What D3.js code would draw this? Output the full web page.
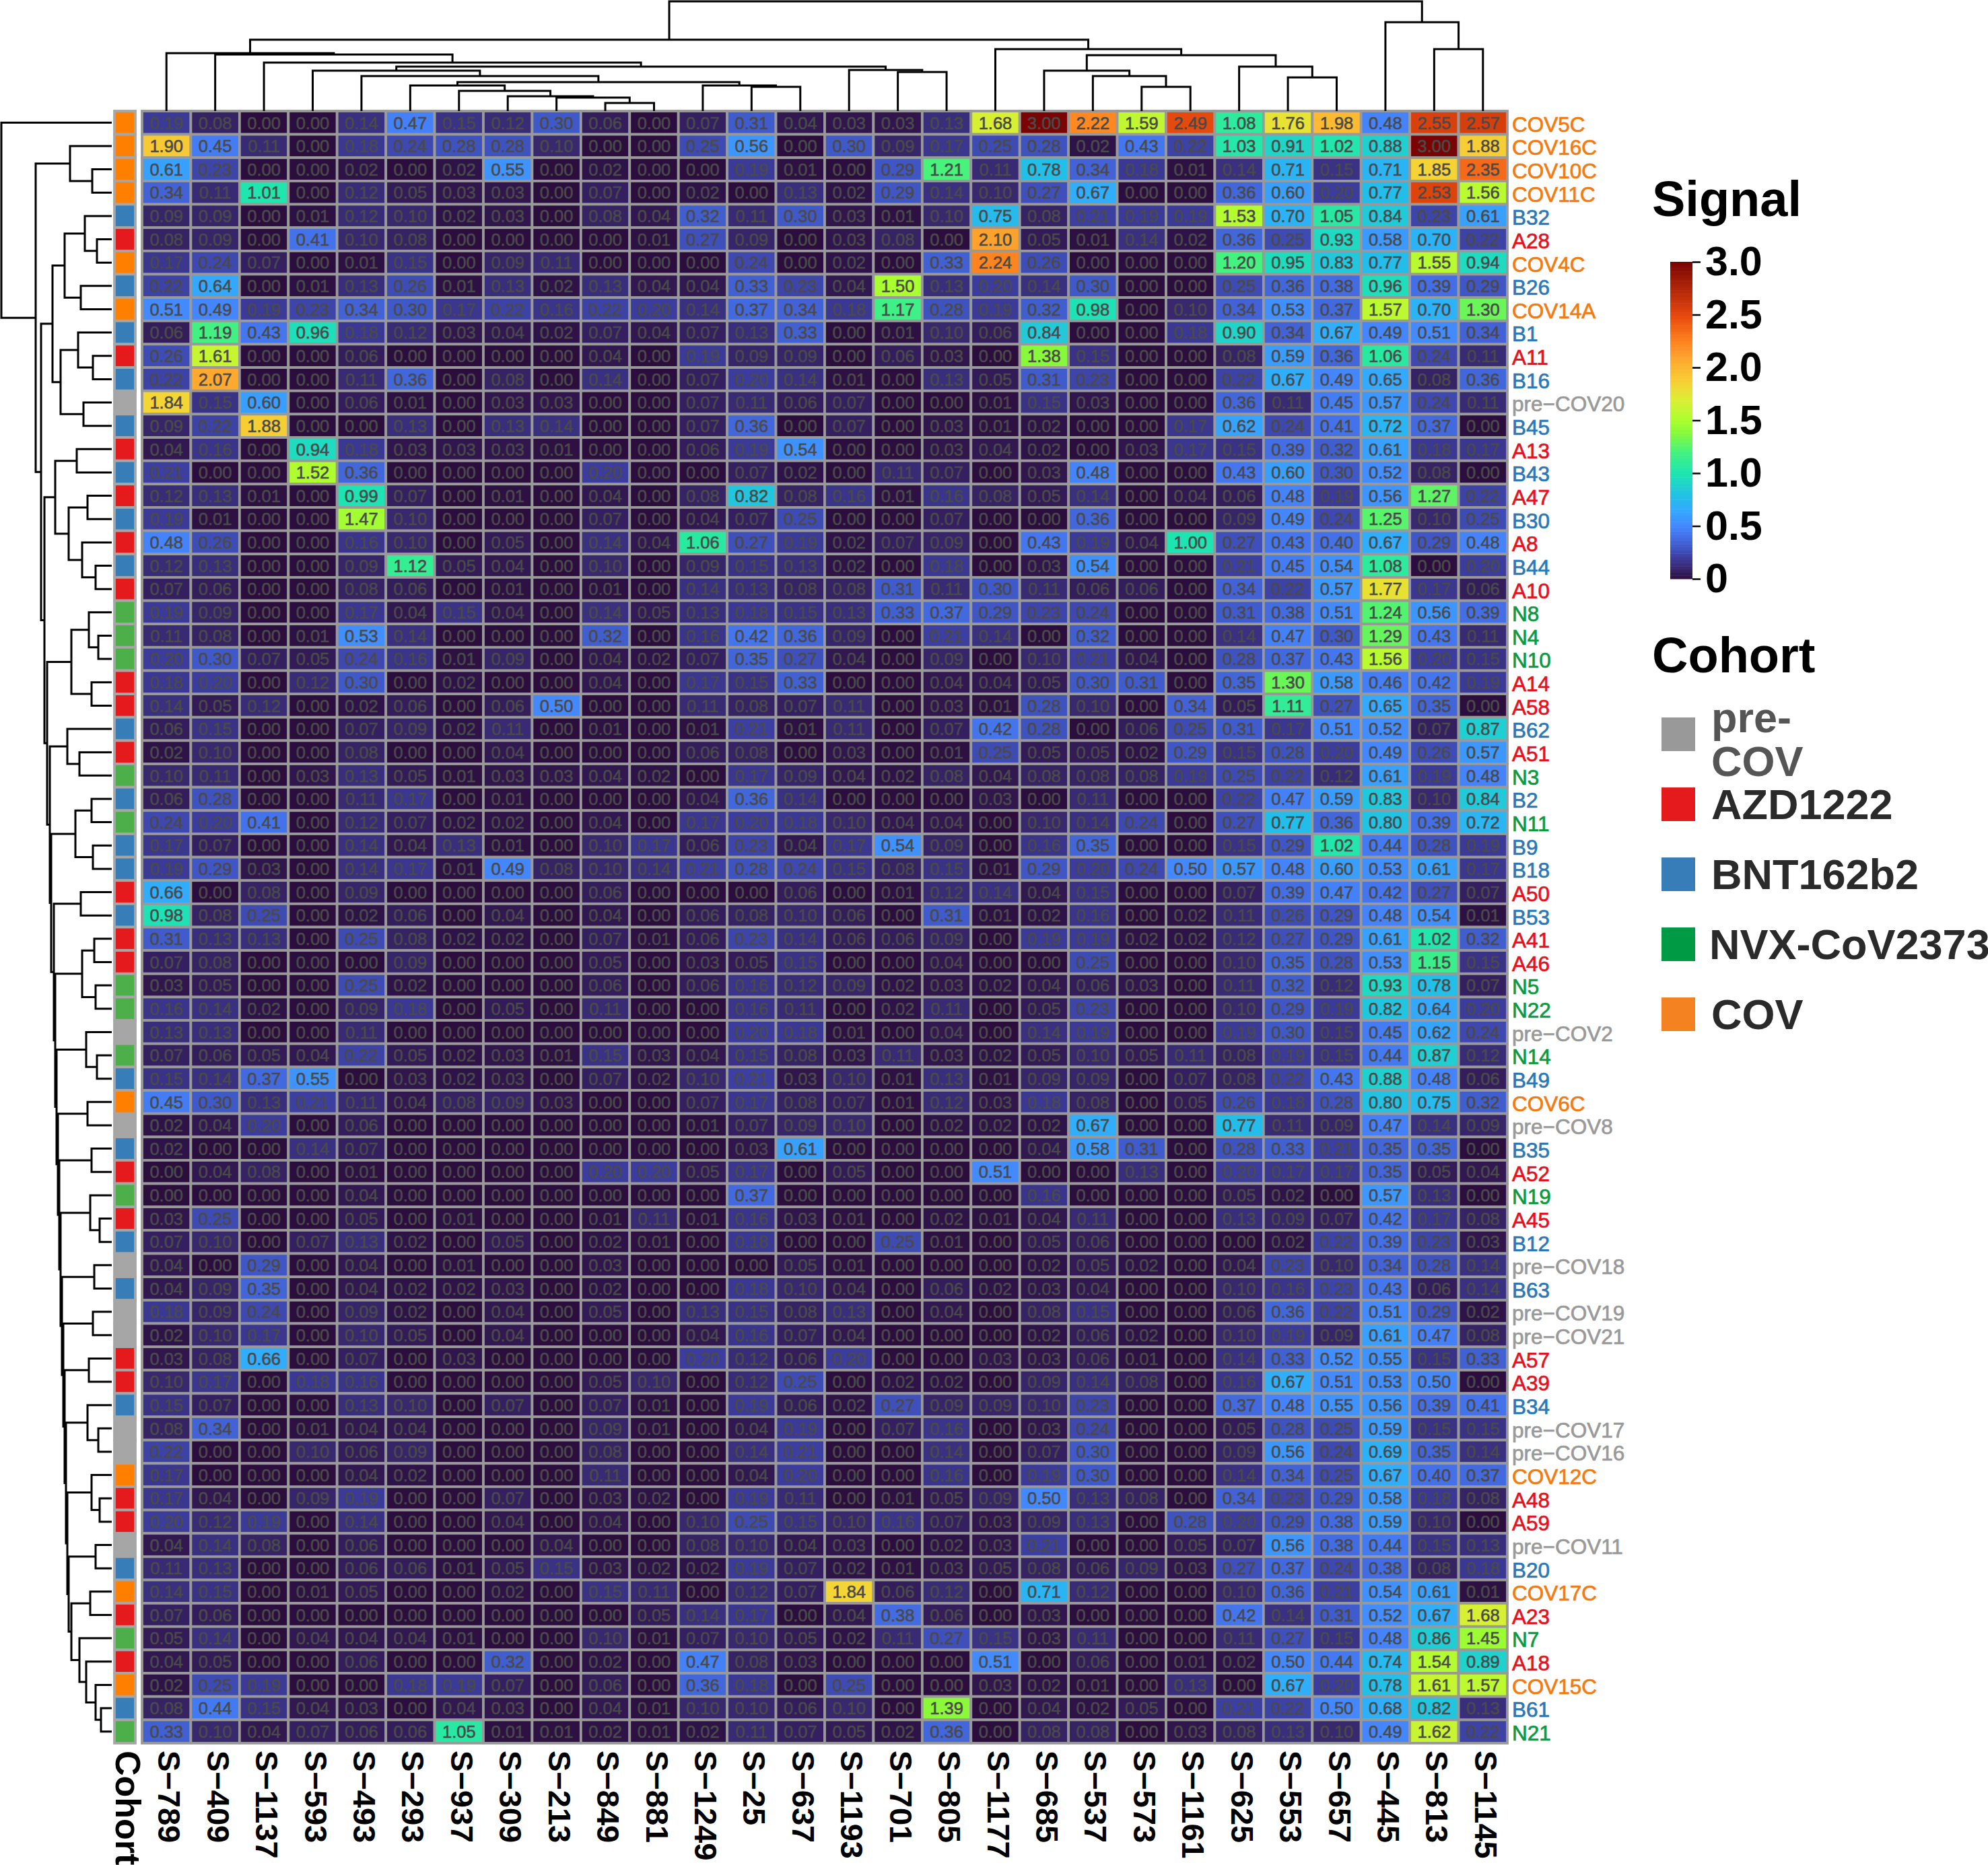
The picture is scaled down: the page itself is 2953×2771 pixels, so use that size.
<!DOCTYPE html>
<html>
<head>
<meta charset="utf-8">
<script src="https://cdn.jsdelivr.net/npm/d3@7"></script>
<style>
  body { margin: 0; background: #fff; }
  text { font-family: "Liberation Sans", Arial, sans-serif; }
</style>
</head>
<body>
<svg id="chart" width="2953" height="2771"></svg>
<script>
const colLabels = ["S−789","S−409","S−1137","S−593","S−493","S−293","S−937","S−309","S−213","S−849","S−881","S−1249","S−25","S−637","S−1193","S−701","S−805","S−1177","S−685","S−537","S−573","S−1161","S−625","S−553","S−657","S−445","S−813","S−1145"];

const rowLabels = ["COV5C","COV16C","COV10C","COV11C","B32","A28","COV4C","B26","COV14A","B1","A11","B16","pre−COV20","B45","A13","B43","A47","B30","A8","B44","A10","N8","N4","N10","A14","A58","B62","A51","N3","B2","N11","B9","B18","A50","B53","A41","A46","N5","N22","pre−COV2","N14","B49","COV6C","pre−COV8","B35","A52","N19","A45","B12","pre−COV18","B63","pre−COV19","pre−COV21","A57","A39","B34","pre−COV17","pre−COV16","COV12C","A48","A59","pre−COV11","B20","COV17C","A23","N7","A18","COV15C","B61","N21"];

const values = [
[0.19,0.08,0,0,0.14,0.47,0.15,0.12,0.30,0.06,0,0.07,0.31,0.04,0.03,0.03,0.13,1.68,3.00,2.22,1.59,2.49,1.08,1.76,1.98,0.48,2.55,2.57],
[1.90,0.45,0.11,0,0.18,0.24,0.28,0.28,0.10,0,0,0.25,0.56,0,0.30,0.09,0.17,0.25,0.28,0.02,0.43,0.22,1.03,0.91,1.02,0.88,3.00,1.88],
[0.61,0.23,0,0,0.02,0,0.02,0.55,0,0.02,0,0,0.19,0.01,0,0.29,1.21,0.11,0.78,0.34,0.18,0.01,0.14,0.71,0.15,0.71,1.85,2.35],
[0.34,0.11,1.01,0,0.12,0.05,0.03,0.03,0,0.07,0,0.02,0,0.13,0.02,0.29,0.14,0.10,0.27,0.67,0,0,0.36,0.60,0.20,0.77,2.53,1.56],
[0.09,0.09,0,0.01,0.12,0.10,0.02,0.03,0,0.08,0.04,0.32,0.11,0.30,0.03,0.01,0.10,0.75,0.08,0.21,0.19,0.19,1.53,0.70,1.05,0.84,0.23,0.61],
[0.08,0.09,0,0.41,0.10,0.08,0,0,0,0,0.01,0.27,0.09,0,0.03,0.08,0,2.10,0.05,0.01,0.14,0.02,0.36,0.25,0.93,0.58,0.70,0.22],
[0.17,0.24,0.07,0,0.01,0.15,0,0.09,0.11,0,0,0,0.24,0,0.02,0,0.33,2.24,0.26,0,0,0,1.20,0.95,0.83,0.77,1.55,0.94],
[0.22,0.64,0,0.01,0.13,0.26,0.01,0.13,0.02,0.13,0.04,0.04,0.33,0.23,0.04,1.50,0.13,0.20,0.14,0.30,0,0,0.25,0.36,0.38,0.96,0.39,0.29],
[0.51,0.49,0.19,0.23,0.34,0.30,0.17,0.22,0.16,0.22,0.20,0.14,0.37,0.34,0.18,1.17,0.28,0.19,0.32,0.98,0,0.10,0.34,0.53,0.37,1.57,0.70,1.30],
[0.06,1.19,0.43,0.96,0.18,0.12,0.03,0.04,0.02,0.07,0.04,0.07,0.13,0.33,0,0.01,0.10,0.06,0.84,0,0,0.18,0.90,0.34,0.67,0.49,0.51,0.34],
[0.26,1.61,0,0,0.06,0,0,0,0,0.04,0,0.19,0.09,0.09,0,0.06,0.03,0,1.38,0.15,0,0,0.08,0.59,0.36,1.06,0.24,0.11],
[0.22,2.07,0,0,0.11,0.36,0,0.08,0,0.14,0,0.07,0.20,0.14,0.01,0,0.13,0.05,0.31,0.23,0,0,0.22,0.67,0.49,0.65,0.08,0.36],
[1.84,0.15,0.60,0,0.06,0.01,0,0.03,0.03,0,0,0.07,0.11,0.06,0.07,0,0,0.01,0.15,0.03,0,0,0.36,0.11,0.45,0.57,0.24,0.11],
[0.09,0.22,1.88,0,0,0.13,0,0.13,0.14,0,0,0.07,0.36,0,0.07,0,0.03,0.01,0.02,0,0,0.17,0.62,0.24,0.41,0.72,0.37,0],
[0.04,0.16,0,0.94,0.18,0.03,0.03,0.03,0.01,0,0,0.06,0.19,0.54,0,0,0.03,0.04,0.02,0,0.03,0.17,0.15,0.39,0.32,0.61,0.18,0.17],
[0.21,0,0,1.52,0.36,0,0,0,0,0.20,0,0,0.07,0.02,0,0.11,0.07,0,0.03,0.48,0,0,0.43,0.60,0.30,0.52,0.08,0],
[0.12,0.13,0.01,0,0.99,0.07,0,0.01,0,0.04,0,0.08,0.82,0.08,0.16,0.01,0.16,0.08,0.05,0.14,0,0.04,0.06,0.48,0.19,0.56,1.27,0.22],
[0.19,0.01,0,0,1.47,0.10,0,0,0,0.07,0,0.04,0.07,0.25,0,0,0.07,0,0,0.36,0,0,0.09,0.49,0.24,1.25,0.10,0.25],
[0.48,0.26,0,0,0.16,0.10,0,0.05,0,0.14,0.04,1.06,0.27,0.19,0.02,0.07,0.09,0,0.43,0.19,0.04,1.00,0.27,0.43,0.40,0.67,0.29,0.48],
[0.12,0.13,0,0,0.09,1.12,0.05,0.04,0,0.10,0,0.09,0.15,0.13,0.02,0,0.18,0,0.03,0.54,0,0,0.21,0.45,0.54,1.08,0,0.20],
[0.07,0.06,0,0,0.08,0.06,0,0.01,0,0.01,0,0.14,0.13,0.08,0.08,0.31,0.11,0.30,0.11,0.06,0.06,0,0.34,0.22,0.57,1.77,0.17,0.06],
[0.19,0.09,0,0,0.17,0.04,0.15,0.04,0,0.14,0.05,0.13,0.18,0.15,0.13,0.33,0.37,0.29,0.23,0.24,0,0,0.31,0.38,0.51,1.24,0.56,0.39],
[0.11,0.08,0,0.01,0.53,0.14,0,0,0,0.32,0,0.16,0.42,0.36,0.09,0,0.21,0.14,0,0.32,0,0,0.14,0.47,0.30,1.29,0.43,0.11],
[0.20,0.30,0.07,0.05,0.24,0.16,0.01,0.09,0,0.04,0.02,0.07,0.35,0.27,0.04,0,0.09,0,0.10,0.21,0.04,0,0.28,0.37,0.43,1.56,0.20,0.15],
[0.18,0.20,0,0.12,0.30,0,0.02,0,0,0.04,0,0.17,0.15,0.33,0,0,0.04,0.04,0.05,0.30,0.31,0,0.35,1.30,0.58,0.46,0.42,0.19],
[0.14,0.05,0.12,0,0.02,0.06,0,0.06,0.50,0,0,0.11,0.08,0.07,0.11,0,0.03,0.01,0.28,0.10,0,0.34,0.05,1.11,0.27,0.65,0.35,0],
[0.06,0.15,0,0,0.07,0.09,0.02,0.11,0,0.01,0,0.01,0.21,0.01,0.11,0,0.07,0.42,0.28,0,0.06,0.25,0.31,0.17,0.51,0.52,0.07,0.87],
[0.02,0.10,0,0,0.08,0,0,0.04,0,0,0,0.06,0.08,0,0.03,0,0.01,0.25,0.05,0.05,0.02,0.29,0.15,0.28,0.20,0.49,0.26,0.57],
[0.10,0.11,0,0.03,0.13,0.05,0.01,0.03,0.03,0.04,0.02,0,0.17,0.09,0.04,0.02,0.08,0.04,0.08,0.08,0.08,0.19,0.25,0.22,0.12,0.61,0.19,0.48],
[0.06,0.28,0,0,0.11,0.17,0,0.01,0,0,0,0.04,0.36,0.14,0,0,0,0.03,0,0.11,0,0,0.22,0.47,0.59,0.83,0.10,0.84],
[0.24,0.20,0.41,0,0.12,0.07,0.02,0.02,0,0.04,0,0.17,0.20,0.18,0.10,0.04,0.04,0,0.10,0.14,0.24,0,0.27,0.77,0.36,0.80,0.39,0.72],
[0.17,0.07,0,0,0.14,0.04,0.13,0.01,0,0.10,0.17,0.06,0.23,0.04,0.17,0.54,0.09,0,0.16,0.35,0,0,0.15,0.29,1.02,0.44,0.28,0.19],
[0.19,0.29,0.03,0,0.14,0.17,0.01,0.49,0.08,0.10,0.14,0.21,0.28,0.24,0.15,0.08,0.15,0.01,0.29,0.20,0.24,0.50,0.57,0.48,0.60,0.53,0.61,0.17],
[0.66,0,0.08,0,0.09,0,0,0,0,0.06,0,0,0,0.06,0,0.01,0.12,0.14,0.04,0.15,0,0,0.07,0.39,0.47,0.42,0.27,0.07],
[0.98,0.08,0.25,0,0.02,0.06,0,0.04,0,0.04,0,0.06,0.08,0.10,0.06,0,0.31,0.01,0.02,0.16,0,0.02,0.11,0.26,0.29,0.48,0.54,0.01],
[0.31,0.13,0.13,0,0.25,0.08,0.02,0.02,0,0.07,0.01,0.06,0.23,0.14,0.06,0.06,0.09,0,0.19,0.19,0.02,0.02,0.12,0.27,0.29,0.61,1.02,0.32],
[0.07,0.08,0,0,0,0.09,0,0,0,0.05,0,0.03,0.05,0.15,0,0,0.04,0,0,0.25,0,0,0.10,0.35,0.28,0.53,1.15,0.15],
[0.03,0.05,0,0,0.25,0.02,0,0,0,0.06,0,0.06,0.16,0.12,0.09,0.02,0.03,0.02,0.04,0.06,0.03,0,0.11,0.32,0.12,0.93,0.78,0.07],
[0.16,0.14,0.02,0,0.09,0.18,0,0.05,0,0.11,0,0,0.16,0.11,0,0.02,0.11,0,0.05,0.23,0,0,0.10,0.29,0.19,0.82,0.64,0.20],
[0.13,0.13,0,0,0.11,0,0,0,0,0,0,0,0.20,0.18,0.01,0,0.04,0,0.14,0.19,0,0,0.19,0.30,0.15,0.45,0.62,0.24],
[0.07,0.06,0.05,0.04,0.22,0.05,0.02,0.03,0.01,0.15,0.03,0.04,0.15,0.08,0.03,0.11,0.03,0.02,0.05,0.10,0.05,0.11,0.08,0.19,0.15,0.44,0.87,0.12],
[0.15,0.14,0.37,0.55,0,0.03,0.02,0.03,0,0.07,0.02,0.10,0.21,0.03,0.10,0.01,0.13,0.01,0.09,0.09,0,0.07,0.08,0.22,0.43,0.88,0.48,0.06],
[0.45,0.30,0.13,0.21,0.11,0.04,0.08,0.09,0.03,0,0,0.07,0.17,0.08,0.07,0.01,0.12,0.03,0.18,0.08,0,0.05,0.26,0.18,0.28,0.80,0.75,0.32],
[0.02,0.04,0.20,0,0.06,0,0,0,0,0,0,0.01,0.07,0.09,0.10,0,0.02,0.02,0.02,0.67,0,0,0.77,0.11,0.09,0.47,0.14,0.09],
[0.02,0,0,0.14,0.07,0,0,0,0,0,0,0,0.03,0.61,0,0,0,0,0.04,0.58,0.31,0,0.28,0.33,0.21,0.35,0.35,0],
[0,0.04,0.08,0,0.01,0,0,0,0,0.20,0.20,0.05,0.17,0,0.05,0,0,0.51,0,0,0.13,0,0.20,0.17,0.17,0.35,0.05,0.04],
[0,0,0,0,0.04,0,0,0,0,0,0,0,0.37,0,0,0,0,0,0.16,0,0,0,0.05,0.02,0,0.57,0.13,0],
[0.03,0.25,0,0,0.05,0,0.01,0,0,0.01,0.11,0.01,0.16,0.03,0.01,0,0.02,0.01,0.04,0.11,0,0,0.13,0.09,0.07,0.42,0.17,0.08],
[0.07,0.10,0,0.07,0.13,0.02,0,0.05,0,0.02,0.01,0,0.18,0,0,0.25,0.01,0,0.05,0.06,0,0,0,0.02,0.22,0.39,0.23,0.03],
[0.04,0,0.29,0,0.04,0,0.01,0,0,0.03,0,0,0,0.05,0.01,0,0,0,0.02,0.05,0.02,0,0.04,0.23,0.10,0.34,0.28,0.14],
[0.04,0.09,0.35,0,0.04,0.02,0.02,0.03,0,0.02,0,0,0.18,0.10,0.04,0,0.06,0.02,0.03,0.04,0,0,0.10,0.16,0.23,0.43,0.06,0.14],
[0.18,0.09,0.24,0,0.09,0.02,0,0.04,0,0.05,0,0.13,0.15,0.08,0.13,0,0.04,0,0.08,0.15,0,0,0.06,0.36,0.22,0.51,0.29,0.02],
[0.02,0.10,0.17,0,0.10,0.05,0,0.04,0,0,0,0.04,0.16,0.07,0.04,0,0,0,0.02,0.06,0.02,0,0.10,0.19,0.09,0.61,0.47,0.08],
[0.03,0.08,0.66,0,0.07,0,0.03,0,0,0,0,0.20,0.12,0.06,0.20,0,0,0.03,0.03,0.06,0.01,0,0.14,0.33,0.52,0.55,0.15,0.33],
[0.10,0.17,0,0.18,0.16,0,0,0,0,0.05,0.10,0,0.12,0.25,0,0.02,0.02,0,0.09,0.14,0.08,0,0.16,0.67,0.51,0.53,0.50,0],
[0.15,0.07,0,0,0.13,0.10,0,0.07,0,0.07,0.01,0,0.19,0.06,0.02,0.27,0.09,0.09,0.10,0.23,0,0,0.37,0.48,0.55,0.56,0.39,0.41],
[0.08,0.34,0,0.01,0.04,0.04,0,0,0,0.09,0.01,0,0.04,0.19,0,0.07,0.16,0,0.03,0.24,0,0,0.05,0.28,0.25,0.59,0.15,0.15],
[0.22,0,0,0.10,0.06,0.09,0,0,0,0.08,0,0,0.14,0.21,0,0,0.14,0,0.07,0.30,0,0,0.09,0.56,0.24,0.69,0.35,0.14],
[0.17,0,0,0,0.04,0.02,0,0,0,0.11,0,0,0.04,0.20,0,0,0.16,0,0.19,0.30,0,0,0.14,0.34,0.25,0.67,0.40,0.37],
[0.17,0.04,0,0.09,0.19,0,0,0.07,0,0.03,0.02,0,0.19,0.11,0,0.01,0.05,0.09,0.50,0.13,0.08,0,0.34,0.23,0.29,0.58,0.18,0.08],
[0.20,0.12,0.19,0,0.14,0,0,0.04,0,0.04,0,0.10,0.25,0.15,0.10,0.16,0.07,0.03,0.09,0.13,0,0.28,0.20,0.29,0.38,0.59,0.10,0],
[0.04,0.14,0.08,0,0.06,0,0,0,0.04,0,0,0.08,0.10,0.04,0.03,0,0.02,0.03,0.21,0,0,0.05,0.07,0.56,0.38,0.44,0.15,0.13],
[0.11,0.13,0,0,0.06,0.06,0.01,0.05,0.15,0.03,0.02,0.02,0.19,0.07,0.02,0.01,0.03,0.05,0.08,0.06,0.09,0.03,0.27,0.37,0.24,0.38,0.08,0.18],
[0.14,0.15,0,0.01,0.05,0,0,0.02,0,0.15,0.11,0,0.12,0.07,1.84,0.06,0.12,0,0.71,0.12,0,0,0.10,0.36,0.21,0.54,0.61,0.01],
[0.07,0.06,0,0,0,0,0,0,0,0,0.05,0.14,0.17,0,0.04,0.38,0.06,0,0.03,0,0,0,0.42,0.14,0.31,0.52,0.67,1.68],
[0.05,0.14,0,0.04,0.04,0.04,0.01,0,0,0.10,0.01,0.07,0.10,0.05,0.02,0.11,0.27,0.15,0.03,0.11,0,0,0.11,0.27,0.15,0.48,0.86,1.45],
[0.04,0.05,0,0,0.06,0,0,0.32,0,0.02,0,0.47,0.08,0.03,0,0,0,0.51,0,0.06,0,0.01,0.02,0.50,0.44,0.74,1.54,0.89],
[0.02,0.25,0.19,0,0,0.18,0.19,0.07,0,0.06,0,0.36,0.18,0,0.25,0,0,0.03,0.02,0.01,0,0.13,0,0.67,0.20,0.78,1.61,1.57],
[0.08,0.44,0.15,0.04,0.03,0,0.04,0.03,0,0.04,0.01,0.10,0.10,0.06,0.10,0,1.39,0,0.04,0.02,0.05,0,0.21,0.22,0.50,0.68,0.82,0.13],
[0.33,0.10,0.04,0.07,0.06,0.06,1.05,0.01,0.01,0.02,0.01,0.02,0.11,0.07,0.05,0.02,0.36,0,0.08,0.08,0,0.03,0.08,0.13,0.10,0.49,1.62,0.22]
];

const signalStops = [0,0.10,0.20,0.30,0.40,0.50,0.65,0.78,1.00,1.20,1.38,1.50,1.70,1.85,2.07,2.24,2.50,3.00];
const signalColors = ["#2c0e3e","#38286e","#3c3c9c","#4059c8","#4470e8","#4488ff","#33aaff","#22bfe8","#1ee5b0","#44f27f","#88f83a","#aaff2f","#dcee33","#f5d335","#ffa92f","#ff8420","#e5470d","#7a0403"];
const signalTicks = [0,0.5,1,1.5,2,2.5,3];

const cohortNames = ["pre-COV","AZD1222","BNT162b2","NVX-CoV2373","COV"];
const legendColors = ["#999999","#e41a1c","#377eb8","#009a44","#f58220"];
const legendTextColors = ["#555555","#2a2a2a","#2a2a2a","#2a2a2a","#2a2a2a"];
const barColors = ["#a6a6a6","#e41a1c","#377eb8","#4daf4a","#ff7f00"];
const labelColors = ["#999999","#e8101c","#2a78b8","#0a9a40","#f47a10"];

// dendrograms: [height, left, right], a plain number is a leaf index
const colTree = [163,
  [106,
    [86, 0, [84, 1, [72, 2, [66,
      [60, 3, [52, 4, [43,
        [38, 5, [30, 6, [22, 7, [20, 8, [12, 9, 10]]]]],
        [38, 11, [36, 12, 13]]]]],
      [61, 14, [58, 15, 16]]]]]],
    [92, 17, [83,
      [60, 18, [52, 19, [36, 20, 21]]],
      [66, 22, [50, 23, 24]]]]],
  [132, 25, [92, 26, 27]]];

// rows below the first four hang off a long ladder of small clusters
const rowClusters = [
  [105, [88, [70, [40, 4, [22, 5, 6]], [46, 7, 8]], [76, [50, 9, [28, 10, 11]], [42, 12, 13]]]],
  [100, [84, [52, 14, 15], [64, [36, 16, 17], [44, 18, [24, 19, 20]]]]],
  [96, [60, [34, 21, [20, 22, 23]], [30, 24, 25]]],
  [92, [66, 26, [48, 27, 28]]],
  [90, [54, [30, 29, 30], [28, 31, 32]]],
  [86, [46, 33, 34]],
  [84, [44, [26, 35, 36], [24, 37, 38]]],
  [82, [38, 39, [22, 40, 41]]],
  [80, [36, 42, 43]],
  [78, [30, 44, 45]],
  [76, [32, 46, [18, 47, 48]]],
  [74, [26, 49, 50]],
  [72, [28, 51, 52]],
  [70, [34, 53, 54]],
  [68, [36, 55, [20, 56, 57]]],
  [66, [30, 58, [18, 59, 60]]],
  [64, [24, 61, 62]]
];
const rowTail = [60, [32, 63, 64], [48, 65, [38, 66, [24, 67, [16, 68, 69]]]]];
const rowLadder = rowClusters.reduceRight((rest, c) => [c[0], c[1], rest], rowTail);
const rowTree = [164, 0, [113, [62, 1, [29, 2, 3]], rowLadder]];

function cohortOf(label) {
  if (label.startsWith("pre")) return 0;
  if (label.startsWith("COV")) return 4;
  return { A: 1, B: 2, N: 3 }[label[0]];
}

const svg = d3.select("#chart");
const hmLeft = 211, hmRight = 2239, hmTop = 165, hmBottom = 2590;
const gridGrey = "#999999";

const x = d3.scaleBand().domain(d3.range(colLabels.length)).range([hmLeft, hmRight]);
const y = d3.scaleBand().domain(d3.range(rowLabels.length)).range([hmTop, hmBottom]);
const color = d3.scaleLinear().domain(signalStops).range(signalColors).clamp(true);

// heatmap
const rows = svg.append("g").selectAll("g").data(values).join("g")
  .attr("transform", (d, i) => `translate(0,${y(i)})`);

const cells = rows.selectAll("g").data(d => d).join("g")
  .attr("transform", (d, j) => `translate(${x(j)},0)`);

cells.append("rect")
  .attr("width", x.bandwidth())
  .attr("height", y.bandwidth())
  .attr("fill", d => color(d))
  .attr("stroke", gridGrey)
  .attr("stroke-width", 3.8);

cells.append("text")
  .attr("x", x.bandwidth() / 2)
  .attr("y", y.bandwidth() / 2)
  .attr("dy", "0.36em")
  .attr("text-anchor", "middle")
  .attr("font-size", 25.5)
  .attr("fill", "#4a4a4a")
  .attr("stroke", "#4a4a4a")
  .attr("stroke-width", 0.6)
  .text(d => d.toFixed(2));

// cohort strip
svg.append("g").selectAll("rect").data(rowLabels).join("rect")
  .attr("x", 170)
  .attr("y", (d, i) => y(i))
  .attr("width", 31)
  .attr("height", y.bandwidth())
  .attr("fill", d => barColors[cohortOf(d)])
  .attr("stroke", "#a6a6a6")
  .attr("stroke-width", 3.8);

// row labels
svg.append("g").selectAll("text").data(rowLabels).join("text")
  .attr("x", 2246)
  .attr("y", (d, i) => y(i) + y.bandwidth() / 2 + 2)
  .attr("dy", "0.36em")
  .attr("font-size", 31.5)
  .attr("fill", d => labelColors[cohortOf(d)])
  .attr("stroke", d => labelColors[cohortOf(d)])
  .attr("stroke-width", 0.7)
  .text(d => d);

// column labels
svg.append("g").selectAll("text").data(colLabels).join("text")
  .attr("transform", (d, j) => `translate(${x(j) + x.bandwidth() / 2 - 12},2601) rotate(90)`)
  .attr("font-size", 47)
  .attr("font-weight", 700)
  .attr("fill", "#000")
  .text(d => d);

svg.append("text")
  .attr("transform", "translate(172,2601) rotate(90)")
  .attr("font-size", 52)
  .attr("font-weight", 700)
  .attr("fill", "#000")
  .text("Cohort");

// dendrograms
function drawTree(g, node, leafPos, hPos, horizontal) {
  if (typeof node === "number") return { p: leafPos(node), h: 0 };
  const a = drawTree(g, node[1], leafPos, hPos, horizontal);
  const b = drawTree(g, node[2], leafPos, hPos, horizontal);
  const pts = [[a.p, a.h], [a.p, node[0]], [b.p, node[0]], [b.p, b.h]];
  const line = d3.line()
    .x(d => horizontal ? hPos(d[1]) : d[0])
    .y(d => horizontal ? d[0] : hPos(d[1]));
  g.append("path")
    .attr("d", line(pts))
    .attr("fill", "none")
    .attr("stroke", "#000")
    .attr("stroke-width", 3);
  return { p: (a.p + b.p) / 2, h: node[0] };
}

const topHeight = d3.scaleLinear().domain([0, 163]).range([hmTop, 2]);
const leftHeight = d3.scaleLinear().domain([0, 164]).range([166, 2]);

drawTree(svg.append("g"), colTree, j => x(j) + x.bandwidth() / 2, topHeight, false);
drawTree(svg.append("g"), rowTree, i => y(i) + y.bandwidth() / 2, leftHeight, true);

// signal legend
svg.append("text")
  .attr("x", 2454).attr("y", 321)
  .attr("font-size", 74).attr("font-weight", 700)
  .text("Signal");

const barY = d3.scaleLinear().domain([0, 3]).range([860, 389]);
svg.append("g").selectAll("rect").data(d3.range(0, 3, 0.03)).join("rect")
  .attr("x", 2481)
  .attr("y", d => barY(d + 0.03))
  .attr("width", 33)
  .attr("height", d => barY(d) - barY(d + 0.03) + 0.5)
  .attr("fill", d => color(d + 0.015));

const barAxis = d3.axisRight(barY)
  .tickValues(signalTicks)
  .tickSize(12)
  .tickPadding(7)
  .tickFormat(d => d === 0 ? "0" : d.toFixed(1));
const barG = svg.append("g").attr("transform", "translate(2514,0)").call(barAxis);
barG.select(".domain").remove();
barG.selectAll("line").attr("stroke", "#000").attr("stroke-width", 2.5);
barG.selectAll("text")
  .attr("font-family", '"Liberation Sans", Arial, sans-serif')
  .attr("font-size", 61)
  .attr("font-weight", 700)
  .attr("fill", "#000");

// cohort legend
svg.append("text")
  .attr("x", 2454).attr("y", 999)
  .attr("font-size", 74).attr("font-weight", 700)
  .text("Cohort");

const legendY = d3.scalePoint().domain(d3.range(cohortNames.length)).range([1091, 1507]);
const legend = svg.append("g").selectAll("g").data(cohortNames).join("g")
  .attr("transform", (d, i) => `translate(2468,${legendY(i)})`);

legend.append("rect")
  .attr("y", -25)
  .attr("width", 50)
  .attr("height", 50)
  .attr("fill", (d, i) => legendColors[i]);

legend.append("text")
  .attr("font-size", 63)
  .attr("font-weight", 700)
  .attr("fill", (d, i) => legendTextColors[i])
  .each(function (d) {
    // the first entry wraps after the hyphen, as in the legend column
    const parts = d === "pre-COV" ? ["pre-", "COV"] : [d];
    const t = d3.select(this);
    parts.forEach((p, k) => {
      t.append("tspan")
        .attr("x", d.startsWith("NVX") ? 71 : 74)
        .attr("y", parts.length > 1 ? -3 + k * 65 : 22)
        .text(p);
    });
  });
</script>
</body>
</html>
